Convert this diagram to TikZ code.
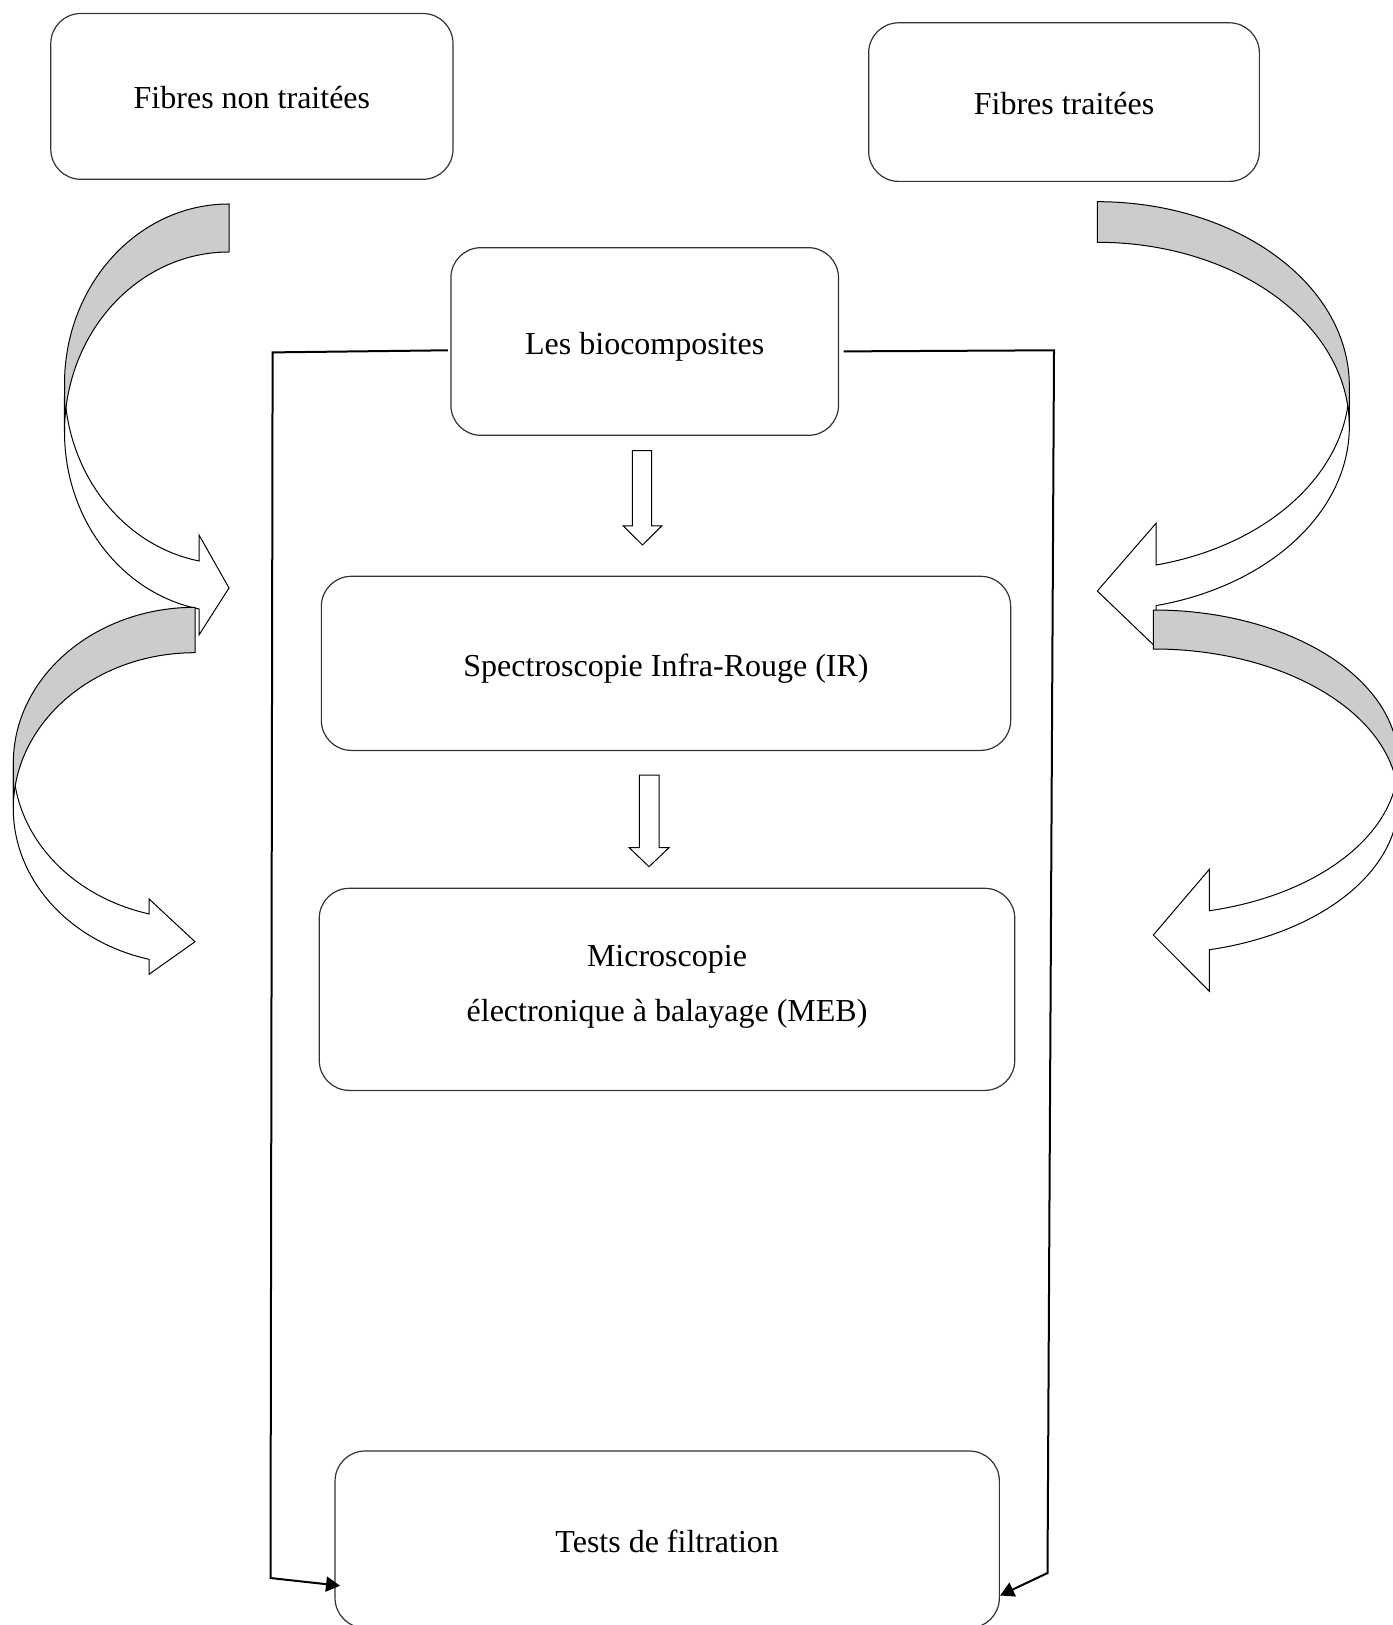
\documentclass[tikz,border=0pt]{standalone}
\usepackage{fontspec}
\setmainfont{Liberation Serif}
\usetikzlibrary{arrows.meta}

% Curved block arrow built from two equal ellipses shifted by the band thickness.
% #1 side (1: bulges left, -1: bulges right), #2 tail x, #3 tail top y,
% #4 horizontal radius, #5 vertical radius, #6 band thickness,
% #7 head length, #8 barb overhang, #9 tip offset below the upper notch
\newcommand\curvedblock[9]{%
  \pgfmathsetmacro\crvA{#3+#5}%
  \pgfmathsetmacro\crvB{\crvA+#6}%
  \pgfmathsetmacro\crvAl{asin(#7/#4)}%
  \pgfmathsetmacro\crvYf{\crvA+#5*cos(\crvAl)}%
  \pgfmathsetmacro\crvYg{\crvYf+#6}%
  \pgfmathsetmacro\crvXf{#2-#1*#4}%
  \pgfmathsetmacro\crvXa{#2-#1*#7}%
  \pgfmathsetmacro\crvAF{90+90*#1}%
  \pgfmathsetmacro\crvAT{90+180*#1}%
  \pgfmathsetmacro\crvAE{90+#1*\crvAl}%
  \pgfmathsetmacro\crvTip{\crvYf+#9}%
  \filldraw[bandbody] (\crvXf,\crvA)
    arc[start angle=\crvAF, end angle=\crvAE, x radius=#4, y radius=#5]
    -- (\crvXa,\crvYf-#8) -- (#2,\crvTip) -- (\crvXa,\crvYg+#8) -- (\crvXa,\crvYg)
    arc[start angle=\crvAE, end angle=\crvAF, x radius=#4, y radius=#5]
    -- cycle;
  \filldraw[bandtail] (#2,#3)
    arc[start angle=\crvAT, end angle=\crvAF, x radius=#4, y radius=#5]
    -- (\crvXf,\crvB)
    arc[start angle=\crvAF, end angle=\crvAT, x radius=#4, y radius=#5]
    -- cycle;
}

% shift a line of text vertically without changing its reported size
\newcommand\nudge[2]{\raisebox{#1}[\height][\depth]{#2}}

\begin{document}
\begin{tikzpicture}[x=0.5pt, y=-0.5pt,
  box/.style={draw=black!80, line width=0.6pt, rounded corners=15pt,
    inner sep=0pt, outer sep=0pt, align=center,
    font=\fontsize{16}{27.5}\selectfont},
  bandbody/.style={draw=black, fill=white, line width=0.5pt, line join=miter},
  bandtail/.style={draw=black, fill=black!20, line width=0.5pt},
  downarrow/.style={draw=black, fill=white, line width=0.5pt},
  conn/.style={draw=black, line width=1pt,
    -{Triangle[length=7pt, width=7.5pt]}}]

\useasboundingbox (0,0) rectangle (1392,1625);

% boxes
\node[box, minimum width=201.1pt, minimum height=82.9pt] (raw) at (251.9,96.4)
  {\nudge{-0.6pt}{Fibres non traitées}};
\node[box, minimum width=195.35pt, minimum height=79.3pt] (treated) at (1064,102.1)
  {\nudge{-0.6pt}{Fibres traitées}};
\node[box, minimum width=193.8pt, minimum height=93.8pt] (bio) at (644.7,341.5)
  {\nudge{-2.6pt}{Les biocomposites}};
\node[box, minimum width=344.65pt, minimum height=87.05pt] (ir) at (666,663.35)
  {\nudge{-2.6pt}{Spectroscopie Infra-Rouge (IR)}};
\node[box, minimum width=347.75pt, minimum height=101.05pt] (meb) at (667,989.35)
  {\nudge{1pt}{Microscopie}\\\nudge{1pt}{électronique à balayage (MEB)}};
\node[box, minimum width=332.15pt, minimum height=88.5pt] (tests) at (667.2,1539.5)
  {\nudge{-1pt}{Tests de filtration}};

% hollow down arrows between the stages
\draw[downarrow] (632.3,450.7) -- (651.7,450.7) -- (651.7,526) -- (661.7,526)
  -- (642.5,545) -- (623.3,526) -- (632.3,526) -- cycle;
\draw[downarrow] (639.3,775) -- (659,775) -- (659,847.7) -- (669,847.7)
  -- (649,866.7) -- (629.3,847.7) -- (639.3,847.7) -- cycle;

% curved arrows on the left
\curvedblock{1}{229}{204}{164.5}{180}{48}{30}{26}{27}
\curvedblock{1}{195}{607.3}{181.7}{155.85}{45.4}{46}{15}{27.8}

% curved arrows on the right
\curvedblock{-1}{1097.3}{201.7}{252}{184.2}{40.6}{58.7}{41.7}{26}
\curvedblock{-1}{1153.3}{610}{245}{152.4}{39}{56}{41.4}{24.3}

% side connectors from the biocomposites to the filtration tests
\coordinate (lturn) at (272.6,352.4);
\coordinate (ldown) at (270.5,1578);
\coordinate (rturn) at (1054,350.3);
\coordinate (rdown) at (1047.5,1573);
\draw[conn] ([shift={(-3,8.8)}]bio.west) -- (lturn) -- (ldown)
  -- ([shift={(5,46.2)}]tests.west);
\draw[conn] ([shift={(5.2,9.9)}]bio.east) -- (rturn) -- (rdown)
  -- ([shift={(0.7,56)}]tests.east);

\end{tikzpicture}
\end{document}
